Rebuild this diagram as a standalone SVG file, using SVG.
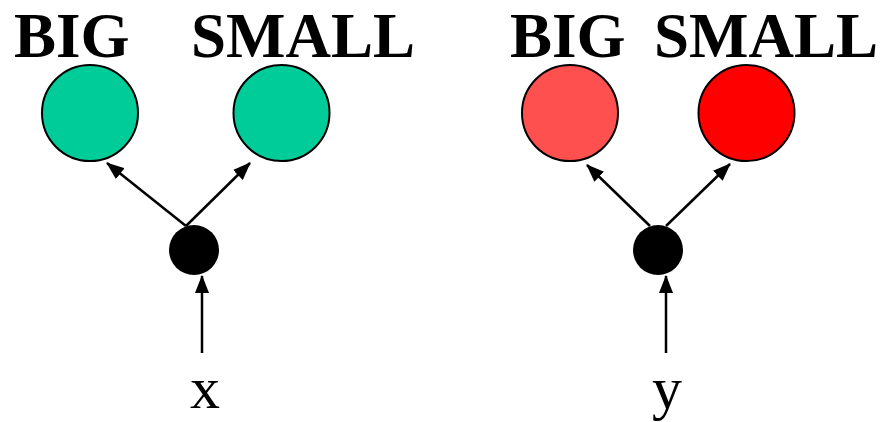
<svg xmlns="http://www.w3.org/2000/svg" width="881" height="422" viewBox="0 0 881 422">
  <style>
    .lbl { font-family: "Liberation Serif", "Times New Roman", serif; font-weight: bold; font-size: 63px; fill: #000; }
    .var { font-family: "Liberation Serif", "Times New Roman", serif; font-size: 60px; fill: #000; text-anchor: middle; }
    .unit { stroke: #000; stroke-width: 2; }
    .hub { fill: #000; }
    .edge { stroke: #000; stroke-width: 2.5; fill: none; marker-end: url(#arrow); }
  </style>
  <defs>
    <marker id="arrow" markerUnits="userSpaceOnUse" markerWidth="18" markerHeight="14" refX="17" refY="7" orient="auto">
      <path d="M0,0 L18,7 L0,14 Z" fill="#000"/>
    </marker>
  </defs>
  <rect width="881" height="422" fill="#fff"/>

  <!-- left network -->
  <g id="x-big">
    <text class="lbl" x="14" y="57">BIG</text>
    <circle class="unit" cx="90" cy="113" r="48" fill="#00CC99"/>
  </g>
  <g id="x-small">
    <text class="lbl" x="191" y="57">SMALL</text>
    <circle class="unit" cx="281.5" cy="113" r="48" fill="#00CC99"/>
  </g>
  <g id="x-hub">
    <circle class="hub" cx="194" cy="250" r="25"/>
  </g>
  <g id="x-input">
    <text class="var" x="205" y="408">x</text>
  </g>

  <!-- right network -->
  <g id="y-big">
    <text class="lbl" x="510" y="57">BIG</text>
    <circle class="unit" cx="570" cy="113" r="48" fill="#FF5050"/>
  </g>
  <g id="y-small">
    <text class="lbl" x="654" y="57">SMALL</text>
    <circle class="unit" cx="746.5" cy="113" r="48" fill="#FF0000"/>
  </g>
  <g id="y-hub">
    <circle class="hub" cx="658" cy="250" r="25"/>
  </g>
  <g id="y-input">
    <text class="var" x="667" y="408">y</text>
  </g>

  <g id="connectors">
    <line class="edge" x1="186" y1="226" x2="107" y2="163"/>
    <line class="edge" x1="186" y1="226" x2="250" y2="163"/>
    <line class="edge" x1="202" y1="353" x2="202" y2="276"/>
    <line class="edge" x1="650" y1="226" x2="587" y2="165"/>
    <line class="edge" x1="666" y1="226" x2="730" y2="164"/>
    <line class="edge" x1="666" y1="353" x2="666" y2="276"/>
  </g>
</svg>
